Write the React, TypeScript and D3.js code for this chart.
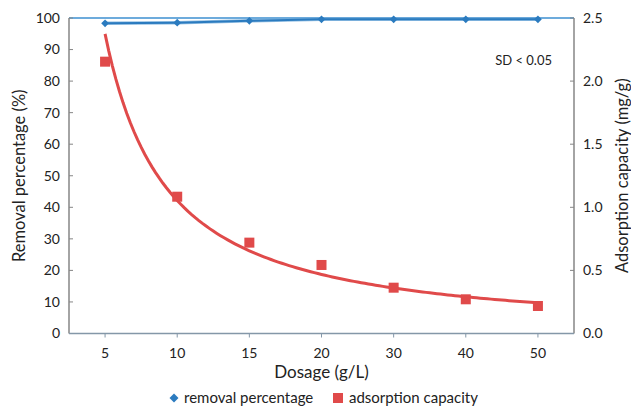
import React from "react";
import * as d3 from "d3";

const dosages = ["5", "10", "15", "20", "30", "40", "50"];
const removalPct = [98.3, 98.5, 99.1, 99.6, 99.6, 99.6, 99.6];
const adsorption = [2.154, 1.084, 0.72, 0.543, 0.363, 0.271, 0.218];
const leftTicks = [0, 10, 20, 30, 40, 50, 60, 70, 80, 90, 100];
const rightTicks = [0, 0.5, 1.0, 1.5, 2.0, 2.5];

const W = 631, H = 406;
const M = { left: 69, right: 57, top: 18, bottom: 72.5 };
const FONT = "Lato, 'Open Sans', sans-serif";
const BLUE = "#2b7bbf";
const RED = "#e04a4a";

function powerFit(ys: number[]) {
  const lx = ys.map((_, i) => Math.log(i + 1));
  const ly = ys.map((y) => Math.log(y));
  const mx = d3.mean(lx)!, my = d3.mean(ly)!;
  let sxy = 0, sxx = 0;
  lx.forEach((x, i) => { sxy += (x - mx) * (ly[i] - my); sxx += (x - mx) ** 2; });
  const b = sxy / sxx;
  const a = Math.exp(my - b * mx);
  return (x: number) => a * Math.pow(x, b);
}

export default function App() {
  const x = d3.scaleBand().domain(dosages).range([M.left, W - M.right]).padding(0);
  const yL = d3.scaleLinear().domain([0, 100]).range([H - M.bottom, M.top]);
  const yR = d3.scaleLinear().domain([0, 2.5]).range([H - M.bottom, M.top]);
  const cx = (i: number) => x(dosages[i])! + x.bandwidth() / 2;
  const xIdx = d3.scaleLinear().domain([1, dosages.length]).range([cx(0), cx(dosages.length - 1)]);

  const fit = powerFit(adsorption);
  const trendPts = d3.range(1, dosages.length + 0.001, 0.05);
  const trendLine = d3.line<number>().x((t) => xIdx(t)).y((t) => yR(fit(t)));

  const removalLine = d3.line<number>().x((_, i) => cx(i)).y((d) => yL(d));

  const x0 = M.left, x1 = W - M.right, y0 = H - M.bottom, y1 = M.top;
  const diamond = d3.symbol().type(d3.symbolSquare).size(30)();
  const legDiamond = d3.symbol().type(d3.symbolSquare).size(40)();

  return (
    <svg width={W} height={H} style={{ position: "absolute", left: 0, top: 0, background: "#fff" }} fontFamily={FONT}>
      <line x1={x0} x2={x1} y1={y1} y2={y1} stroke="#3d8fd0" strokeWidth={1.5} />
      <line x1={x0} x2={x0} y1={y1} y2={y0} stroke="#868686" strokeWidth={1.5} />
      {leftTicks.map((t) => (
        <g key={"l" + t}>
          <line x1={x0} x2={x0 + 4} y1={yL(t)} y2={yL(t)} stroke="#868686" />
          <text x={x0 - 9} y={yL(t)} dy="0.35em" textAnchor="end" fontSize={14} fill="#222">{t}</text>
        </g>
      ))}
      <line x1={x1} x2={x1} y1={y1} y2={y0} stroke="#868686" strokeWidth={1.5} />
      {rightTicks.map((t) => (
        <g key={"r" + t}>
          <line x1={x1 - 4} x2={x1} y1={yR(t)} y2={yR(t)} stroke="#868686" />
          <text x={x1 + 9} y={yR(t)} dy="0.35em" textAnchor="start" fontSize={14} fill="#222">{t.toFixed(1)}</text>
        </g>
      ))}
      <line x1={x0} x2={x1} y1={y0} y2={y0} stroke="#8497a8" strokeWidth={1.5} />
      {dosages.map((d, i) => (
        <g key={"x" + d}>
          <line x1={cx(i)} x2={cx(i)} y1={y0} y2={y0 + 4} stroke="#8497a8" />
          <text x={cx(i)} y={y0 + 20} dy="0.35em" textAnchor="middle" fontSize={14} fill="#222">{d}</text>
        </g>
      ))}

      <path d={removalLine(removalPct)!} fill="none" stroke="#6aa6d8" strokeWidth={3.5} opacity={0.7} />
      <path d={removalLine(removalPct)!} fill="none" stroke={BLUE} strokeWidth={2} />
      {removalPct.map((v, i) => (
        <path key={"d" + i} d={diamond!} transform={`translate(${cx(i)},${yL(v)}) rotate(45)`} fill={BLUE} />
      ))}

      <path d={trendLine(trendPts)!} fill="none" stroke={RED} strokeWidth={3} />
      {adsorption.map((v, i) => (
        <rect key={"s" + i} x={cx(i) - 5} y={yR(v) - 5} width={10} height={10} fill={RED} />
      ))}

      <text x={552} y={60} dy="0.35em" textAnchor="end" fontSize={13} fill="#222">SD &lt; 0.05</text>

      <text transform={`translate(19,${(y0 + y1) / 2}) rotate(-90)`} textAnchor="middle" dy="0.35em" fontSize={16.5} fill="#222">Removal percentage (%)</text>
      <text transform={`translate(622,${(y0 + y1) / 2}) rotate(-90)`} textAnchor="middle" dy="0.35em" fontSize={16.5} fill="#222">Adsorption capacity (mg/g)</text>
      <text x={(x0 + x1) / 2} y={372} dy="0.35em" textAnchor="middle" fontSize={17} fill="#222">Dosage (g/L)</text>

      <path d={legDiamond!} transform="translate(174,398) rotate(45)" fill={BLUE} />
      <text x={184} y={398} dy="0.35em" fontSize={15} fill="#222">removal percentage</text>
      <rect x={333} y={393} width={10} height={10} fill={RED} />
      <text x={349} y={398} dy="0.35em" fontSize={15} fill="#222">adsorption capacity</text>
    </svg>
  );
}
